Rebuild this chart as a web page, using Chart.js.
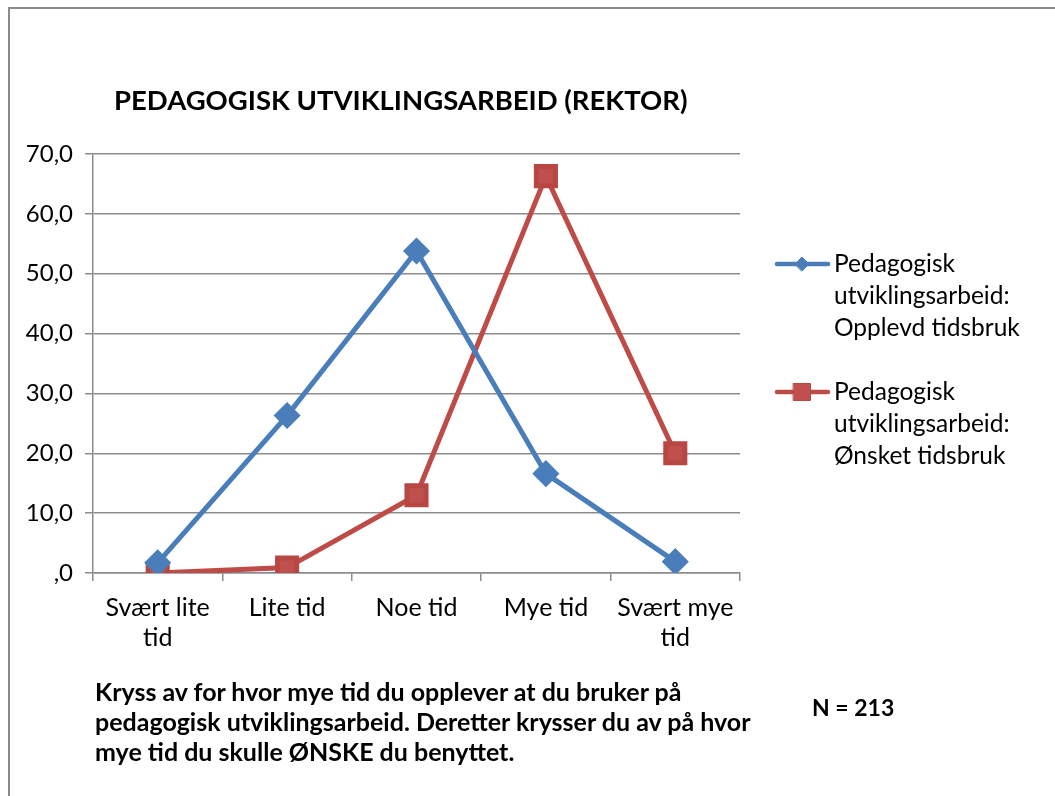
<!DOCTYPE html>
<html>
<head>
<meta charset="utf-8">
<script src="https://cdn.jsdelivr.net/npm/chart.js@4/dist/chart.umd.min.js"></script>
<style>
  html, body { margin: 0; padding: 0; background: #fff; }
  body { width: 1055px; height: 796px; position: relative; overflow: hidden; font-family: Lato, "Open Sans", sans-serif; color: #000; }
  #frame { position: absolute; left: 8px; top: 7px; width: 1060px; height: 800px; border-left: 2px solid #8a8a8a; border-top: 2px solid #8a8a8a; }
  #chart { position: absolute; left: 0; top: 0; }
  .txt { position: absolute; white-space: nowrap; }
  #title { left: 114px; top: 86px; font-size: 27.5px; line-height: 1; font-weight: bold; }
  #note { left: 95px; top: 676px; font-size: 25px; font-weight: bold; line-height: 30px; }
  #n { left: 812px; top: 692px; font-size: 23px; font-weight: bold; line-height: 30px; }
</style>
</head>
<body>
<div id="frame"></div>
<canvas id="chart" width="1055" height="796"></canvas>
<div class="txt" id="title">PEDAGOGISK UTVIKLINGSARBEID (REKTOR)</div>
<div class="txt" id="note">Kryss av for hvor mye tid du opplever at du bruker på<br>pedagogisk utviklingsarbeid. Deretter krysser du av på hvor<br>mye tid du skulle ØNSKE du benyttet.</div>
<div class="txt" id="n">N = 213</div>
<script>
// Pedagogisk utviklingsarbeid (rektor) — opplevd vs. ønsket tidsbruk, N = 213

const categories = [['Svært lite', 'tid'], 'Lite tid', 'Noe tid', 'Mye tid', ['Svært mye', 'tid']];
const opplevd = [1.7, 26.3, 53.8, 16.6, 1.9];
const onsket = [0.0, 0.9, 13.0, 66.3, 20.0];
const seriesNames = [
	['Pedagogisk', 'utviklingsarbeid:', 'Opplevd tidsbruk'],
	['Pedagogisk', 'utviklingsarbeid:', 'Ønsket tidsbruk']
];

const gridColor = '#8c8c8c';
const font = "Lato, 'Open Sans', sans-serif";

// legend on the right, with wrapped labels (the built-in one does not wrap)
const sideLegend = {
	id: 'sideLegend',
	afterDraw(chart) {
		const ctx = chart.ctx;
		const rows = [264, 392];
		const markerSize = [7, 12];
		ctx.save();
		chart.data.datasets.forEach((ds, i) => {
			const y = rows[i];
			ctx.strokeStyle = ds.borderColor;
			ctx.lineWidth = 4.5;
			ctx.lineCap = 'round';
			ctx.beginPath();
			ctx.moveTo(777, y);
			ctx.lineTo(828, y);
			ctx.stroke();
			ctx.fillStyle = ds.pointBackgroundColor;
			ctx.strokeStyle = ds.pointBorderColor;
			ctx.lineWidth = 1;
			Chart.helpers.drawPoint(ctx, {
				pointStyle: ds.pointStyle,
				radius: markerSize[i],
				borderWidth: 1
			}, 802, y);
			ctx.fillStyle = '#000';
			ctx.font = '24.5px ' + font;
			ctx.textBaseline = 'alphabetic';
			ctx.textAlign = 'left';
			seriesNames[i].forEach((line, k) => {
				ctx.fillText(line, 834, y + 8 + k * 32);
			});
		});
		ctx.restore();
	}
};

const ctx = document.getElementById('chart').getContext('2d');

new Chart(ctx, {
	type: 'line',
	data: {
		labels: categories,
		datasets: [{
			label: seriesNames[0].join(' '),
			data: opplevd,
			borderColor: '#4a7ebb',
			borderWidth: 5,
			pointStyle: 'rectRot',
			pointRadius: 10,
			pointBackgroundColor: '#4a7ebb',
			pointBorderColor: '#4a7ebb',
			tension: 0
		}, {
			label: seriesNames[1].join(' '),
			data: onsket,
			borderColor: '#be4b48',
			borderWidth: 5,
			pointStyle: 'rect',
			pointRadius: 13.5,
			pointBackgroundColor: '#c0504d',
			pointBorderColor: '#b84744',
			tension: 0
		}]
	},
	options: {
		responsive: false,
		animation: false,
		layout: {
			padding: { left: 8, top: 154, right: 315, bottom: 0 }
		},
		plugins: {
			legend: { display: false },
			title: { display: false },
			tooltip: { enabled: false }
		},
		scales: {
			x: {
				offset: true,
				afterFit: (scale) => { scale.height = 223; },
				grid: {
					offset: true,
					drawOnChartArea: false,
					color: gridColor,
					lineWidth: 1.5,
					tickLength: 8
				},
				border: { color: gridColor, width: 1.5 },
				ticks: {
					autoSkip: false,
					maxRotation: 0,
					padding: 12,
					color: '#000',
					font: { family: font, size: 25, lineHeight: '30px' }
				}
			},
			y: {
				min: 0,
				max: 70,
				afterFit: (scale) => { scale.width = 85; },
				grid: {
					color: gridColor,
					lineWidth: 1.5,
					tickLength: 8
				},
				border: { color: gridColor, width: 1.5 },
				ticks: {
					stepSize: 10,
					padding: 12,
					color: '#000',
					font: { family: font, size: 24 },
					callback: (v) => v === 0 ? ',0' : v.toFixed(1).replace('.', ',')
				}
			}
		}
	},
	plugins: [sideLegend]
});
</script>
</body>
</html>
